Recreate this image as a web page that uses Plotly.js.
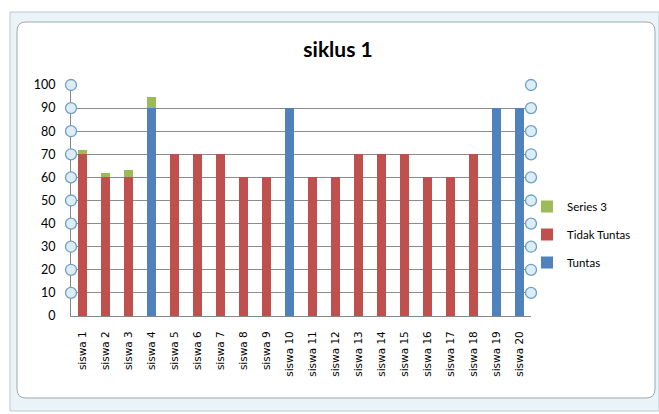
<!DOCTYPE html>
<html>
<head>
<meta charset="utf-8">
<script src="https://cdn.plot.ly/plotly-3.0.1.min.js"></script>
<style>html,body{margin:0;padding:0;background:#fff;}#chart{width:659px;height:414px;}</style>
</head>
<body>
<div id="chart"></div>
<script>
const categories = ["siswa 1","siswa 2","siswa 3","siswa 4","siswa 5","siswa 6","siswa 7","siswa 8","siswa 9","siswa 10","siswa 11","siswa 12","siswa 13","siswa 14","siswa 15","siswa 16","siswa 17","siswa 18","siswa 19","siswa 20"];
const tuntas      = [0,0,0,90,0,0,0,0,0,90,0,0,0,0,0,0,0,0,90,90];
const tidakTuntas = [70,60,60,0,70,70,70,60,60,0,60,60,70,70,70,60,60,70,0,0];
const series3     = [2,2,3,5,0,0,0,0,0,0,0,0,0,0,0,0,0,0,0,0];
const yTicks = [0,10,20,30,40,50,60,70,80,90,100];

const W = 659, H = 414;
const mL = 71, mR = 128, mT = 85, mB = 98;
const pw = W - mL - mR, ph = H - mT - mB;
const px = x => (x - mL) / pw;
const py = y => (H - mB - y) / ph;
const yMax = 100;

const shapes = [];
// outer frame
shapes.push({type:'rect', xref:'paper', yref:'paper', x0:px(10), x1:px(659), y0:py(411), y1:py(12),
  fillcolor:'#EAF3F7', line:{color:'#BCC8D0', width:1}, layer:'below'});
// inner white rounded panel
(function(){
  const x0=17,x1=655,y0=22,y1=398,r=9;
  const P=(x,y)=>px(x)+','+py(y);
  const path = 'M'+P(x0+r,y0)+' L'+P(x1-r,y0)+' Q'+P(x1,y0)+' '+P(x1,y0+r)+
    ' L'+P(x1,y1-r)+' Q'+P(x1,y1)+' '+P(x1-r,y1)+' L'+P(x0+r,y1)+' Q'+P(x0,y1)+' '+P(x0,y1-r)+
    ' L'+P(x0,y0+r)+' Q'+P(x0,y0)+' '+P(x0+r,y0)+' Z';
  shapes.push({type:'path', xref:'paper', yref:'paper', path:path, fillcolor:'#FFFFFF',
    line:{color:'#9FA9B0', width:1}, layer:'below'});
})();
// handles (circles) at gridline ends
yTicks.filter(v => v > 0).forEach(v => {
  [0,1].forEach(xa => {
    shapes.push({type:'circle', xref:'paper', yref:'paper', xsizemode:'pixel', ysizemode:'pixel',
      xanchor:xa, yanchor:v / yMax, x0:-5.5, x1:5.5, y0:-5.5, y1:5.5,
      fillcolor:'#DCEDF5', line:{color:'#6F9FC6', width:1.3}, layer:'above'});
  });
});

const traces = [
  {type:'bar', name:'Tuntas', x:categories, y:tuntas, marker:{color:'#4F81BD'}, legendgroup:'a', legendrank:3},
  {type:'bar', name:'Tidak Tuntas', x:categories, y:tidakTuntas, marker:{color:'#C0504D'}, legendgroup:'b', legendrank:2},
  {type:'bar', name:'Series 3', x:categories, y:series3, marker:{color:'#9BBB59'}, legendgroup:'c', legendrank:1}
];

const layout = {
  width:W, height:H,
  margin:{l:mL, r:mR, t:mT, b:mB, pad:0},
  paper_bgcolor:'#FFFFFF', plot_bgcolor:'rgba(0,0,0,0)',
  barmode:'stack', bargap:0.57,
  title:{text:'<b>siklus 1</b>', x:px(338), xanchor:'center', xref:'paper', y:1-50/H, yanchor:'middle',
    font:{family:'Lato, "Open Sans", sans-serif', size:21, color:'#000'}},
  xaxis:{type:'category', tickangle:-90, showgrid:false, showline:true, linecolor:'#868686', linewidth:1,
    ticks:'', ticklabelstandoff:10,
    tickfont:{family:'"DejaVu Sans", sans-serif', size:10.5, color:'#000'}, fixedrange:true},
  yaxis:{range:[0,yMax], tickvals:yTicks, showgrid:true, gridcolor:'#8C8C8C', gridwidth:1,
    showline:true, linecolor:'#868686', linewidth:1, zeroline:false, ticks:'', ticklabelstandoff:12,
    tickfont:{family:'Lato, "Open Sans", sans-serif', size:12.5, color:'#000'}, fixedrange:true},
  legend:{x:px(527), xanchor:'left', y:py(192), yanchor:'top', traceorder:'grouped', tracegroupgap:9,
    font:{family:'Lato, "Open Sans", sans-serif', size:11.5, color:'#000'}, bgcolor:'rgba(0,0,0,0)', itemwidth:30},
  shapes:shapes,
  showlegend:true
};

Plotly.newPlot('chart', traces, layout, {displayModeBar:false, staticPlot:true});
</script>
</body>
</html>
